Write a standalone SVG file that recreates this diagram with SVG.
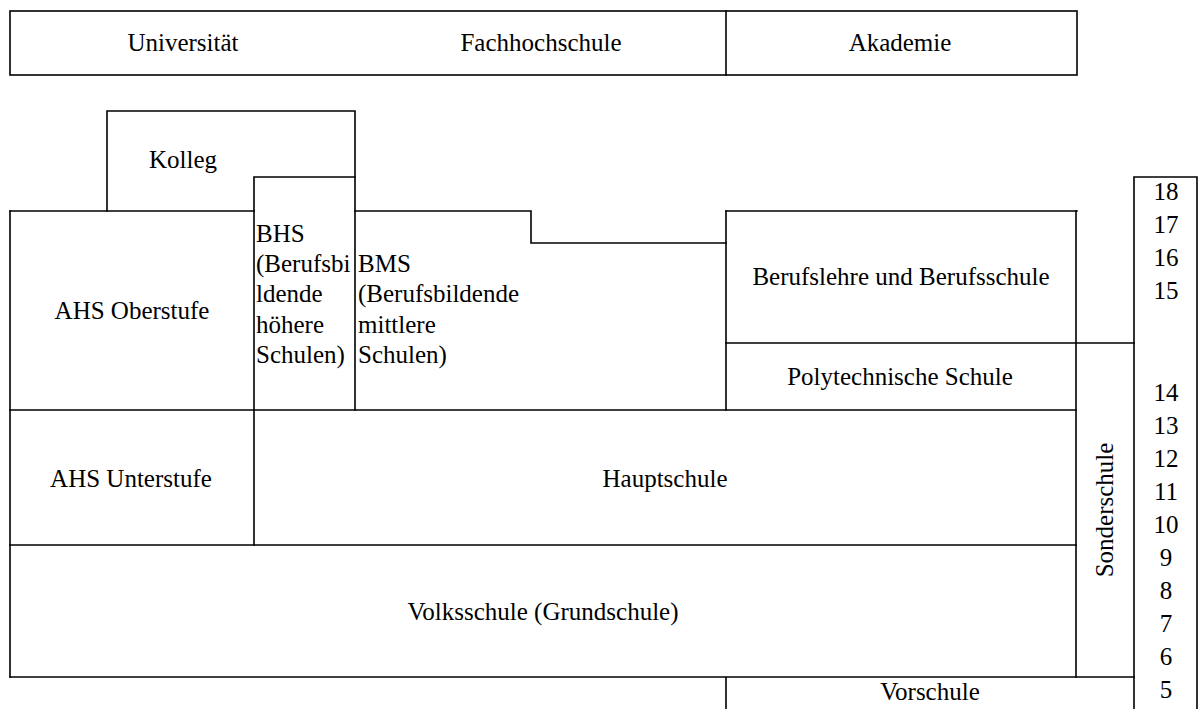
<svg xmlns="http://www.w3.org/2000/svg" width="1199" height="709" viewBox="0 0 1199 709">
<style>
.ln{fill:none;stroke:#000;stroke-width:1.6;stroke-linecap:square}
.t{font-family:'Liberation Serif','Times New Roman',Times,'DejaVu Serif',serif;font-size:25px;fill:#000}
.c{text-anchor:middle}
</style>
<rect width="1199" height="709" fill="#fff"/>
<g id="connectors">
<rect class="ln" x="10" y="11" width="1067" height="64"/>
<path class="ln" d="M726,11V75"/>
<path class="ln" d="M107,211V111H355V410"/>
<path class="ln" d="M254,177H355M254,177V545"/>
<path class="ln" d="M10,211H254M355,211H531V243H726M726,211H1077"/>
<path class="ln" d="M726,211V410M1076,211V677M10,211V677"/>
<path class="ln" d="M726,343H1134M10,410H1076M10,545H1076M10,677H1134M726,677V709"/>
<path class="ln" d="M1134,709V177H1197V709"/>
</g>
<g class="t" font-family="Liberation Serif, serif" font-size="25">
<g id="universitaet"><text class="c" x="183" y="51">Universität</text></g>
<g id="fachhochschule"><text class="c" x="541" y="51">Fachhochschule</text></g>
<g id="akademie"><text class="c" x="900" y="51">Akademie</text></g>
<g id="kolleg"><text x="149" y="168">Kolleg</text></g>
<g id="ahs-oberstufe"><text class="c" x="132" y="319">AHS Oberstufe</text></g>
<g id="bhs"><text x="256"><tspan x="256" y="242">BHS</tspan><tspan x="256" y="272">(Berufsbi</tspan><tspan x="256" y="302">ldende</tspan><tspan x="256" y="333">höhere</tspan><tspan x="256" y="363">Schulen)</tspan></text></g>
<g id="bms"><text x="358"><tspan x="358" y="272">BMS</tspan><tspan x="358" y="302">(Berufsbildende</tspan><tspan x="358" y="333">mittlere</tspan><tspan x="358" y="363">Schulen)</tspan></text></g>
<g id="berufslehre"><text class="c" x="901" y="285">Berufslehre und Berufsschule</text></g>
<g id="polytechnische"><text class="c" x="900" y="385">Polytechnische Schule</text></g>
<g id="ahs-unterstufe"><text class="c" x="131" y="487">AHS Unterstufe</text></g>
<g id="hauptschule"><text class="c" x="665" y="487">Hauptschule</text></g>
<g id="volksschule"><text class="c" x="543" y="620">Volksschule (Grundschule)</text></g>
<g id="vorschule"><text class="c" x="930" y="700">Vorschule</text></g>
<g id="sonderschule"><text class="c" transform="translate(1113,510) rotate(-90)" x="0" y="0">Sonderschule</text></g>
<g id="alter">
<text class="c" x="1166" y="200">18</text>
<text class="c" x="1166" y="233">17</text>
<text class="c" x="1166" y="266">16</text>
<text class="c" x="1166" y="299">15</text>
<text class="c" x="1166" y="401">14</text>
<text class="c" x="1166" y="434">13</text>
<text class="c" x="1166" y="467">12</text>
<text class="c" x="1166" y="500">11</text>
<text class="c" x="1166" y="533">10</text>
<text class="c" x="1166" y="566">9</text>
<text class="c" x="1166" y="599">8</text>
<text class="c" x="1166" y="632">7</text>
<text class="c" x="1166" y="665">6</text>
<text class="c" x="1166" y="698">5</text>
</g>
</g>
</svg>
